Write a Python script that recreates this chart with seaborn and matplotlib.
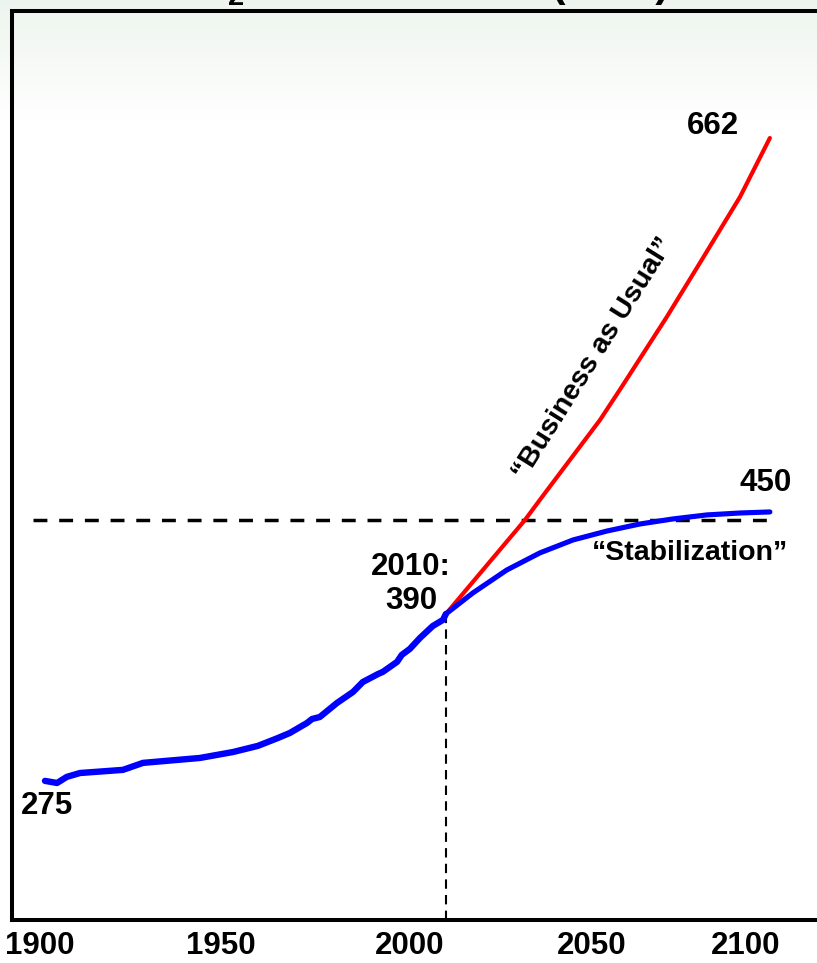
import numpy as np
import pandas as pd
import matplotlib
matplotlib.use("Agg")
import matplotlib.pyplot as plt
import matplotlib.transforms as mtransforms
import seaborn as sns

# ---------------- data ----------------
hist_years = [1900, 1903.3, 1906.0, 1909.6, 1921.4, 1926.9, 1942.5, 1951.6, 1958.4,
              1963.9, 1967.2, 1970.0, 1971.9, 1973.3, 1975.4, 1980.1, 1984.5, 1987.2,
              1991.4, 1992.7, 1996.6, 1997.9, 2000.1, 2002.9, 2006.4, 2009.2, 2010]
hist_ppm = [294.6, 293.4, 296.9, 299.1, 300.9, 304.9, 307.7, 311.1, 314.6,
            319.1, 322.0, 325.4, 327.7, 330.0, 331.1, 339.1, 345.4, 351.1,
            355.7, 356.9, 362.6, 366.6, 370.0, 376.3, 383.1, 386.6, 390.0]

bau_years = [2010, 2031.7, 2036.4, 2052.3, 2057.7, 2070.6, 2079.7, 2090.7, 2098.9]
bau_ppm = [390.0, 443.7, 456.9, 500.9, 518.0, 559.7, 590.6, 628.3, 662.0]

stab_years = [2010, 2017.4, 2026.7, 2035.8, 2044.9, 2054.2, 2063.2, 2072.3, 2081.6, 2090.7, 2098.9]
stab_ppm = [390.0, 402.0, 415.1, 424.9, 432.3, 437.4, 441.4, 444.3, 446.6, 447.7, 448.3]

target_years = [1896.7, 2100.8]
target_ppm = [443.7, 443.7]

marker_year = 2010
marker_ppm = 390.0

tick_years = [1900, 1950, 2000, 2050, 2100]
tick_labels = ["1900", "1950", "2000", "2050", "2100"]

hist_df = pd.DataFrame({"year": hist_years, "ppm": hist_ppm})
bau_df = pd.DataFrame({"year": bau_years, "ppm": bau_ppm})
stab_df = pd.DataFrame({"year": stab_years, "ppm": stab_ppm})

# ---------------- style ----------------
sns.set_style("white")
plt.rcParams["font.family"] = ["Liberation Sans", "DejaVu Sans"]
plt.rcParams["font.weight"] = "bold"
plt.rcParams["text.color"] = "black"
plt.rcParams["xtick.color"] = "black"
plt.rcParams["mathtext.fontset"] = "custom"
plt.rcParams["mathtext.rm"] = "Liberation Sans:bold"
plt.rcParams["mathtext.bf"] = "Liberation Sans:bold"
plt.rcParams["mathtext.it"] = "Liberation Sans:bold"

W, H = 817, 963
fig = plt.figure(figsize=(W / 100, H / 100), dpi=100)

# background gradient
bg = fig.add_axes([0, 0, 1, 1], zorder=-10)
bg.set_axis_off()
n = 963
t = np.clip(np.arange(n) / 120.0, 0, 1)
top = np.array([0.93, 0.958, 0.93])
col = top[None, :] * (1 - t[:, None]) + np.ones(3)[None, :] * t[:, None]
img = np.repeat(col[:, None, :], 2, axis=1)
bg.imshow(img, aspect="auto", extent=[0, 1, 0, 1], origin="upper")
bg.set_xlim(0, 1)
bg.set_ylim(0, 1)

left = 12 / W
right = 830 / W
bottom = (H - 920) / H
topf = (H - 11.5) / H
ax = fig.add_axes([left, bottom, right - left, topf - bottom])
ax.patch.set_alpha(0)

sns.lineplot(data=hist_df, x="year", y="ppm", ax=ax, color="#0000ff", linewidth=4.6,
             sort=False, legend=False, solid_capstyle="round", solid_joinstyle="round")
sns.lineplot(data=bau_df, x="year", y="ppm", ax=ax, color="#ff0000", linewidth=3.0,
             sort=False, legend=False, solid_capstyle="round", solid_joinstyle="round")
sns.lineplot(data=stab_df, x="year", y="ppm", ax=ax, color="#0000ff", linewidth=3.7,
             sort=False, legend=False, solid_capstyle="round", solid_joinstyle="round")

ax.plot(target_years, target_ppm, color="black", linewidth=2.5,
        linestyle=(0, (4.0, 3.4)), zorder=1)

ax.set_xlim(1890.95, 2115.4)
ax.set_ylim(215.1, 734.3)
ax.vlines(marker_year, ax.get_ylim()[0], marker_ppm, color="black", linewidth=1.5,
          linestyles=[(0, (4.5, 3))], zorder=1)

for s in ["left", "bottom", "top"]:
    ax.spines[s].set_linewidth(2.9)
    ax.spines[s].set_color("black")
ax.spines["right"].set_visible(False)

ax.set_xticks(tick_years)
ax.set_xticklabels(tick_labels, fontsize=22.5, fontweight="bold", color="black")
ax.set_yticks([])
ax.tick_params(axis="x", length=0, pad=8)
ax.set_xlabel("")
ax.set_ylabel("")
# some labels sit slightly left in the original
for i, dx in ((0, -5), (1, -6), (len(tick_labels) - 1, -28)):
    lbl = ax.get_xticklabels()[i]
    lbl.set_transform(lbl.get_transform() + mtransforms.ScaledTranslation(dx / 100, 0, fig.dpi_scale_trans))

fs = 22.5
ax.text(1900.5, 280.3, "275", fontsize=fs, fontweight="bold", ha="center", va="center")
ax.text(2000.4, 407.1, "2010:\n390", fontsize=fs, fontweight="bold", ha="center",
        va="center", linespacing=1.15, multialignment="center")
ax.text(2097.8, 465.1, "450", fontsize=fs, fontweight="bold", ha="center", va="center")
ax.text(2083.3, 668.6, "662", fontsize=fs, fontweight="bold", ha="center", va="center")
ax.text(2077.0, 420.9, "\u201cStabilization\u201d", fontsize=20.5, fontweight="bold",
        ha="center", va="baseline")
ax.text(2050.5, 536.0, "\u201cBusiness as Usual\u201d", fontsize=20.5, fontweight="bold",
        ha="center", va="center", rotation=57.9, rotation_mode="anchor")

# title mostly above the canvas, as in the original (only its lowest parts show)
fig.text(165 / W, 1 + 4 / H, "CO", fontsize=30, fontweight="bold", ha="left", va="baseline")
fig.text(228 / W, 1 - 5 / H, "2", fontsize=21, fontweight="bold", ha="left", va="baseline")
fig.text(246 / W, 1 + 4 / H, " Concentration (PPM)", fontsize=30, fontweight="bold",
         ha="left", va="baseline")

fig.savefig("out.png", dpi=100)
